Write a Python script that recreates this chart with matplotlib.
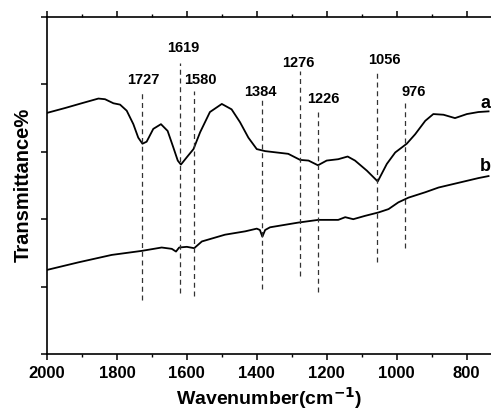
import matplotlib
matplotlib.use("Agg")
import matplotlib.pyplot as plt
from matplotlib.ticker import MultipleLocator

plt.rcParams['font.family'] = ['Liberation Sans', 'DejaVu Sans']
plt.rcParams['font.weight'] = 'bold'

# spectrum a (wavenumber, transmittance in arbitrary units)
wn_a = [1998, 1948, 1901, 1853, 1834, 1810, 1791, 1772, 1753, 1739, 1727, 1715,
        1696, 1674, 1655, 1639, 1626, 1617, 1600, 1581, 1562, 1534, 1500, 1472,
        1448, 1424, 1400, 1376, 1343, 1310, 1276, 1252, 1225, 1200, 1167, 1140,
        1119, 1085, 1054, 1028, 1004, 971, 947, 918, 895, 866, 833, 799, 766, 737]
t_a = [3.58, 3.65, 3.72, 3.79, 3.78, 3.72, 3.70, 3.61, 3.41, 3.21, 3.12, 3.15,
       3.34, 3.41, 3.31, 3.07, 2.87, 2.81, 2.92, 3.04, 3.29, 3.59, 3.71, 3.63,
       3.44, 3.21, 3.04, 3.01, 2.99, 2.97, 2.88, 2.87, 2.80, 2.87, 2.89, 2.93,
       2.87, 2.72, 2.56, 2.82, 2.99, 3.12, 3.26, 3.46, 3.56, 3.55, 3.50, 3.56,
       3.59, 3.60]

# spectrum b
wn_b = [1998, 1910, 1815, 1729, 1672, 1643, 1631, 1622, 1600, 1579, 1557, 1491,
        1433, 1400, 1391, 1384, 1376, 1362, 1281, 1224, 1167, 1147, 1124, 1090,
        1052, 1023, 995, 966, 918, 880, 823, 766, 737]
t_b = [1.25, 1.36, 1.47, 1.53, 1.58, 1.56, 1.52, 1.58, 1.59, 1.57, 1.67, 1.77,
       1.82, 1.86, 1.84, 1.74, 1.84, 1.88, 1.95, 1.99, 1.99, 2.03, 2.00, 2.05,
       2.10, 2.15, 2.25, 2.32, 2.40, 2.47, 2.54, 2.61, 2.64]

# marked bands: position, dashed line top/bottom, label position
peaks = [1727, 1619, 1580, 1384, 1276, 1226, 1056, 976]
line_top = [3.87, 4.32, 3.90, 3.77, 4.20, 3.64, 4.20, 3.75]
line_bot = [0.80, 0.91, 0.86, 0.96, 1.16, 0.92, 1.36, 1.57]
label_x = [1725, 1611, 1562, 1390, 1280, 1210, 1036, 951]
label_y = [4.08, 4.55, 4.08, 3.90, 4.33, 3.80, 4.38, 3.90]

fig = plt.figure(figsize=(4.91, 4.10), dpi=100)
ax = fig.add_axes([47 / 491, 55 / 410, 1 - 47 / 491, 337 / 410])

ax.plot(wn_a, t_a, color='black', lw=1.3, solid_joinstyle='round')
ax.plot(wn_b, t_b, color='black', lw=1.3, solid_joinstyle='round')

for p, top, bot, lx, ly in zip(peaks, line_top, line_bot, label_x, label_y):
    ax.plot([p, p], [bot, top], color='#333333', lw=0.9, ls=(0, (4, 3)))
    ax.text(lx, ly, str(p), ha='center', va='center', fontsize=10.5,
            fontweight='bold')

# curve labels at the right edge
ax.text(731, 3.73, 'a', fontsize=13, fontweight='bold', va='center',
        ha='right', clip_on=False)
ax.text(731, 2.80, 'b', fontsize=13, fontweight='bold', va='center',
        ha='right', clip_on=False)

ax.set_xlim(2000, 730)
ax.set_ylim(0, 5)
ax.xaxis.set_major_locator(MultipleLocator(200))
ax.xaxis.set_minor_locator(MultipleLocator(100))
ax.yaxis.set_major_locator(MultipleLocator(1))
ax.set_yticklabels([])
ax.spines['right'].set_visible(False)
for s in ['left', 'top', 'bottom']:
    ax.spines[s].set_linewidth(1.2)
ax.tick_params(axis='x', which='major', direction='out', length=4, width=1.1,
               top=True, labelsize=12, pad=4)
ax.tick_params(axis='x', which='minor', direction='out', length=2, width=1.0,
               top=True)
ax.tick_params(axis='y', which='major', direction='out', length=4, width=1.1)
for lab in ax.get_xticklabels():
    lab.set_fontweight('bold')

fig.text(269 / 491, 5 / 410, 'Wavenumber(cm$^{\\mathbf{-1}}$)', fontsize=14,
         fontweight='bold', ha='center', va='baseline')
fig.text(23 / 491, 1 - 185 / 410, 'Transmittance%', fontsize=14.5,
         fontweight='bold', ha='center', va='center', rotation=90)

fig.savefig('out.png', dpi=100)
